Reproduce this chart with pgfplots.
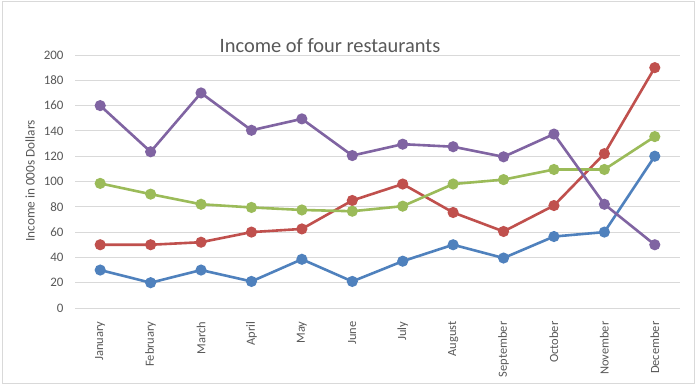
\documentclass[border=0pt]{standalone}
\usepackage{fontspec}
\setmainfont{Carlito}
\usepackage{pgfplots}
\pgfplotsset{compat=1.18}
\definecolor{cblue}{HTML}{4F81BD}
\definecolor{cred}{HTML}{C0504D}
\definecolor{cgreen}{HTML}{9BBB59}
\definecolor{cpurple}{HTML}{8064A2}
\definecolor{cgrid}{HTML}{D9D9D9}
\definecolor{ctext}{HTML}{595959}
\begin{document}
\begin{tikzpicture}
\useasboundingbox (0,0) rectangle (696bp,385bp);
\fill[white] (0,0) rectangle (696bp,385bp);
\draw[cgrid, line width=1bp] (2bp,1.5bp) rectangle (694bp,383bp);
\begin{axis}[
  at={(75bp,77bp)}, anchor=south west,
  scale only axis, width=605bp, height=253bp,
  xmin=-0.5, xmax=11.5, ymin=0, ymax=200,
  xtick={0,...,11},
  xticklabels={January,February,March,April,May,June,July,August,September,October,November,December},
  x tick label style={rotate=90, anchor=east, font=\fontsize{12.5}{14}\selectfont, text=ctext},
  ytick={0,20,...,200},
  y tick label style={font=\fontsize{13}{15}\selectfont, text=ctext},
  /pgf/number format/assume math mode=true,
  ymajorgrids, grid style={cgrid, line width=0.8bp},
  axis line style={draw=none},
  major tick length=0pt,
  xticklabel shift=10bp, yticklabel shift=8bp,
  clip=false,
  every axis plot/.append style={line width=2.6bp, mark=*, mark size=4.2bp},
]
\addplot[cblue, mark options={fill=cblue}] coordinates {
(0,30) (1,20) (2,30) (3,21) (4,38.5) (5,21) (6,37) (7,50) (8,39.5) (9,56.5) (10,60) (11,120)};
\addplot[cred, mark options={fill=cred}] coordinates {
(0,50) (1,50) (2,52) (3,60) (4,62.5) (5,85) (6,98) (7,75.5) (8,60.5) (9,81) (10,122) (11,190)};
\addplot[cgreen, mark options={fill=cgreen}] coordinates {
(0,98.5) (1,90) (2,82) (3,79.5) (4,77.5) (5,76.5) (6,80.5) (7,98) (8,101.5) (9,109.5) (10,109.5) (11,135.5)};
\addplot[cpurple, mark options={fill=cpurple}] coordinates {
(0,160) (1,123.5) (2,170) (3,140.5) (4,149.5) (5,120.5) (6,129.5) (7,127.5) (8,119.5) (9,137.5) (10,82) (11,50)};
\end{axis}
\node[anchor=base, text=ctext, font=\fontsize{20.5}{24}\selectfont] at (330bp,332bp) {Income of four restaurants};
\node[rotate=90, text=ctext, font=\fontsize{13.3}{16}\selectfont] at (30bp,204bp) {Income in 000s Dollars};
\end{tikzpicture}
\end{document}
